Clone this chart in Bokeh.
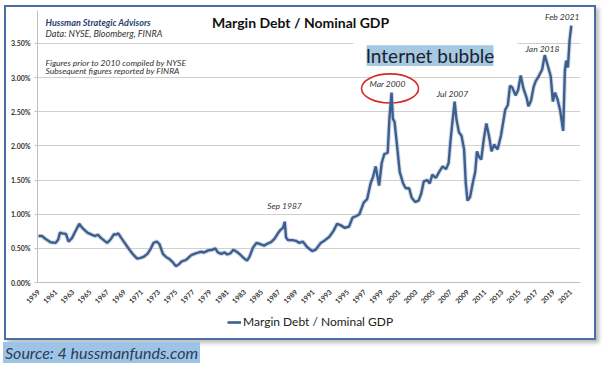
import math
from bokeh.plotting import figure
from bokeh.models import (Range1d, FixedTicker, NumeralTickFormatter, Label,
                          BoxAnnotation, Legend, LegendItem, Div, ColumnDataSource)
from bokeh.layouts import column
from bokeh.embed import file_html
from bokeh.resources import INLINE

# ---------------- data ----------------
years = [
    1959.0, 1959.4, 1959.8, 1960.4, 1961.0, 1961.3, 1961.5, 1961.8, 1962.2, 1962.5,
    1962.9, 1963.3, 1963.75, 1964.1, 1964.7, 1965.2, 1965.6, 1965.9, 1966.3, 1967.0,
    1967.4, 1967.8, 1968.0, 1968.3, 1968.6, 1969.1, 1969.6, 1970.1, 1970.5, 1970.9,
    1971.3, 1971.7, 1972.1, 1972.4, 1972.8, 1973.1, 1973.5, 1973.9, 1974.3, 1974.7,
    1975.0, 1975.3, 1975.7, 1976.2, 1976.8, 1977.4, 1977.9, 1978.3, 1978.8, 1979.3,
    1979.6, 1979.9, 1980.3, 1980.7, 1981.0, 1981.4, 1981.7, 1982.1, 1982.5, 1982.9,
    1983.3, 1983.6, 1984.0, 1984.4, 1984.9, 1985.3, 1985.7, 1986.1, 1986.5, 1986.9,
    1987.2, 1987.5, 1987.7, 1987.85, 1988.1, 1988.6, 1989.0, 1989.4, 1989.8, 1990.3,
    1990.9, 1991.3, 1991.9, 1992.4, 1992.9, 1993.4, 1993.8, 1994.2, 1994.7, 1995.2,
    1995.6, 1996.0, 1996.4, 1996.9, 1997.3, 1997.7, 1998.0, 1998.3, 1998.7, 1999.0,
    1999.3, 1999.7, 1999.9, 2000.15, 2000.3, 2000.5, 2000.8, 2001.1, 2001.5, 2001.8,
    2002.2, 2002.5, 2002.9, 2003.3, 2003.6, 2003.9, 2004.3, 2004.6, 2004.9, 2005.3,
    2005.7, 2006.1, 2006.5, 2006.8, 2007.0, 2007.2, 2007.5, 2007.7, 2008.0, 2008.3,
    2008.6, 2008.8, 2009.0, 2009.3, 2009.6, 2009.9, 2010.1, 2010.3, 2010.6, 2010.9,
    2011.2, 2011.5, 2011.8, 2012.1, 2012.5, 2012.9, 2013.2, 2013.4, 2013.7, 2013.95,
    2014.2, 2014.6, 2014.9, 2015.2, 2015.5, 2015.9, 2016.1, 2016.4, 2016.7, 2016.95,
    2017.3, 2017.7, 2018.0, 2018.3, 2018.7, 2018.95, 2019.2, 2019.5, 2019.8, 2020.15,
    2020.35, 2020.5, 2020.7, 2020.9, 2021.1,
]
ratio_pct = [
    0.68, 0.68, 0.64, 0.59, 0.58, 0.63, 0.73, 0.72, 0.71, 0.60,
    0.65, 0.75, 0.86, 0.80, 0.73, 0.70, 0.68, 0.70, 0.65, 0.58,
    0.63, 0.71, 0.70, 0.72, 0.66, 0.57, 0.48, 0.40, 0.35, 0.36,
    0.38, 0.42, 0.50, 0.58, 0.60, 0.56, 0.42, 0.37, 0.34, 0.29,
    0.24, 0.26, 0.31, 0.33, 0.40, 0.43, 0.45, 0.44, 0.47, 0.48,
    0.50, 0.44, 0.42, 0.44, 0.41, 0.43, 0.48, 0.45, 0.41, 0.36,
    0.32, 0.38, 0.51, 0.58, 0.56, 0.54, 0.57, 0.59, 0.64, 0.72,
    0.77, 0.80, 0.89, 0.66, 0.62, 0.62, 0.61, 0.58, 0.60, 0.52,
    0.46, 0.48, 0.58, 0.62, 0.67, 0.76, 0.86, 0.84, 0.80, 0.82,
    0.95, 0.97, 1.00, 1.17, 1.22, 1.45, 1.55, 1.70, 1.42, 1.75,
    1.88, 1.90, 2.40, 2.78, 2.40, 2.35, 1.99, 1.62, 1.45, 1.38,
    1.38, 1.24, 1.18, 1.20, 1.30, 1.48, 1.50, 1.45, 1.58, 1.53,
    1.62, 1.70, 1.66, 1.75, 2.05, 2.30, 2.65, 2.40, 2.20, 2.15,
    1.95, 1.45, 1.20, 1.25, 1.45, 1.62, 1.92, 1.85, 1.80, 2.10,
    2.33, 2.15, 1.92, 2.02, 1.95, 2.15, 2.38, 2.53, 2.60, 2.88,
    2.86, 2.74, 2.82, 3.03, 2.85, 2.70, 2.58, 2.66, 2.86, 2.95,
    3.02, 3.12, 3.33, 3.20, 3.02, 2.65, 2.78, 2.68, 2.52, 2.22,
    3.10, 3.25, 3.15, 3.55, 3.76,
]
tick_years = list(range(1959, 2022, 2))
y_ticks = [0.0, 0.005, 0.010, 0.015, 0.020, 0.025, 0.030, 0.035]
series_name = "Margin Debt / Nominal GDP"

FONT = "Lato"
LINE_COLOR = "#3D5F8F"

src = ColumnDataSource(data=dict(x=years, y=[v / 100.0 for v in ratio_pct]))

p = figure(width=588, height=302, output_backend="svg", toolbar_location=None,
           x_range=Range1d(1958.883, 2022.17), y_range=Range1d(0, 0.03983),
           min_border_left=31, min_border_right=14, min_border_top=3,
           min_border_bottom=25)
p.outline_line_color = None
p.background_fill_color = "white"
p.border_fill_color = "white"

# axes
p.xaxis.ticker = FixedTicker(ticks=tick_years)
p.xaxis.major_label_orientation = math.pi / 4
p.xaxis.major_label_text_font = FONT
p.xaxis.major_label_text_font_style = "bold"
p.xaxis.major_label_text_font_size = "7px"
p.xaxis.major_label_text_color = "#333333"
p.xaxis.axis_line_color = "#BFBFBF"
p.xaxis.major_tick_line_color = None
p.xaxis.minor_tick_line_color = None
p.xaxis.major_label_standoff = 2

p.yaxis.ticker = FixedTicker(ticks=y_ticks)
p.yaxis.formatter = NumeralTickFormatter(format="0.00%")
p.yaxis.major_label_text_font = FONT
p.yaxis.major_label_text_font_style = "bold"
p.yaxis.major_label_text_font_size = "7px"
p.yaxis.major_label_text_color = "#333333"
p.yaxis.axis_line_color = "#BFBFBF"
p.yaxis.major_tick_line_color = "#BFBFBF"
p.yaxis.major_tick_out = 3
p.yaxis.major_tick_in = 0
p.yaxis.minor_tick_line_color = None
p.yaxis.major_label_standoff = 4

p.xgrid.visible = False
p.ygrid.ticker = FixedTicker(ticks=y_ticks)
p.ygrid.grid_line_color = "#D0D0D0"

# white box behind "Internet bubble" that hides the gridline
p.add_layout(BoxAnnotation(left=1995.71, right=2014.83, bottom=0.0311, top=0.03547,
                           fill_color="white", fill_alpha=1, line_color=None))
p.add_layout(BoxAnnotation(left=1997.23, right=2012.03, bottom=0.03169, top=0.03474,
                           fill_color="#A6C8E0", fill_alpha=1, line_color=None))

# red ellipse around Mar 2000
p.ellipse(x=[1999.97], y=[0.02842], width=57, height=29, width_units="screen",
          height_units="screen", fill_color="white", line_color="#D42A2A", line_width=1.6)

# line with a soft shadow
p.line("x", "y", source=src, line_color="#9FB0C6", line_width=4.5, line_alpha=0.45)
r = p.line("x", "y", source=src, line_color=LINE_COLOR, line_width=2.4)

def lab(x, y, text, size, style="italic", color="#333333", align="center", font=FONT):
    p.add_layout(Label(x=x, y=y, text=text, text_font=font, text_font_size=size,
                       text_font_style=style, text_color=color, text_align=align,
                       text_baseline="middle"))

lab(1959.82, 0.0381, "Hussman Strategic Advisors", "9px", "bold italic", "#1F3F6F", "left")
lab(1959.82, 0.0365, "Data: NYSE, Bloomberg, FINRA", "9px", "italic", "#333333", "left")
lab(1959.82, 0.0322, "Figures prior to 2010 compiled by NYSE", "8.5px", "italic", "#333333", "left")
lab(1959.82, 0.0309, "Subsequent figures reported by FINRA", "8.5px", "italic", "#333333", "left")
lab(1989.54, 0.0381, "Margin Debt / Nominal GDP", "14px", "bold", "#111111")
lab(2004.63, 0.03321, "Internet bubble", "19px", "normal", "#1A2230")
lab(1999.68, 0.02907, "Mar 2000", "8.5px")
lab(2007.25, 0.02762, "Jul 2007", "8.5px")
lab(2017.74, 0.03416, "Jan 2018", "8.5px")
lab(2022.05, 0.03895, "Feb 2021", "8.5px", align="right")
lab(1987.67, 0.01119, "Sep 1987", "8.5px")

# legend row: a small companion figure whose copy of the series lies out of view
p2 = figure(width=588, height=29, output_backend="svg", toolbar_location=None,
            min_border=0, x_range=Range1d(0, 1), y_range=Range1d(0, 1))
p2.axis.visible = False
p2.grid.visible = False
p2.outline_line_color = None
p2.background_fill_color = "white"
p2.border_fill_color = "white"
r2 = p2.line("x", "y", source=src, line_color=LINE_COLOR, line_width=2.6)
legend = Legend(items=[LegendItem(label=series_name, renderers=[r2])],
                location=(190, 9), orientation="horizontal",
                border_line_color=None, background_fill_alpha=0,
                label_text_font=FONT, label_text_font_size="12px",
                label_text_color="#222222", glyph_width=14, glyph_height=12,
                label_height=12, label_standoff=2, padding=2, margin=0, spacing=0)
p2.add_layout(legend)

box = column(p, p2, spacing=0, margin=(5, 0, 0, 4),
             styles={"border": "2px solid #4A6FA5",
                     "box-shadow": "3px 3px 4px #BBBBBB"})

div = Div(text='<span style="background:#9DC3E6;color:#2A3E56;font-style:italic;'
               'font-family:Lato;font-size:16px;padding:1px 2px;">'
               'Source: 4 hussmanfunds.com</span>',
          width=300, height=20, margin=(2, 0, 0, 3))

layout = column(box, div, spacing=0)
open("out.html", "w").write(file_html(layout, INLINE))
